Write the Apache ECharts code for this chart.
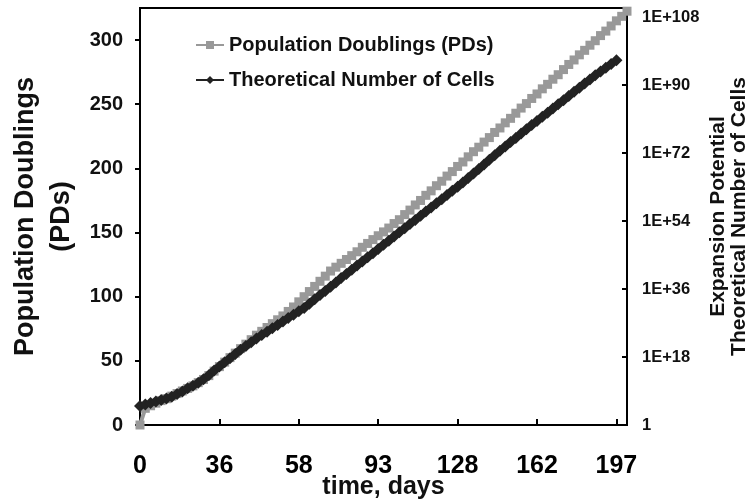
<!DOCTYPE html>
<html>
<head>
<meta charset="utf-8">
<script src="https://cdn.jsdelivr.net/npm/echarts@6/dist/echarts.min.js"></script>
<style>
html,body{margin:0;padding:0;background:#fff;}
#chart{width:747px;height:501px;}
</style>
</head>
<body>
<div id="chart"></div>
<script>
// Sampling days (category axis)
const days = [
  0,2,5,7,9,12,14,16,19,21,24,26,29,31,33,
  36,37,39,40,42,43,45,46,48,49,51,52,54,55,57,
  58,61,63,65,68,70,72,75,77,79,82,84,86,89,91,
  93,95,98,100,102,105,107,109,112,114,116,119,121,123,126,
  128,130,133,135,137,139,142,144,146,148,151,153,155,157,160,
  162,164,167,169,171,174,176,178,181,183,185,188,190,192,195,
  197,199,202
];

// Population doublings (left axis)
const populationDoublings = [
  0,13,15,17,19,20.5,22.5,24.5,26.5,28.5,
  30.5,33,35.5,38.5,42,45.5,49,52.5,56,59.5,
  63,66.5,70,73,76,79,82,85,88.5,92,
  96,100,104,108,112,116,120,123,126,129,
  132,135,138.5,141.5,144.5,147.5,150.5,153.5,157,160,
  164,167.5,171.5,175,179,182.5,186.5,190,194,197.5,
  201.5,205,209,213,216.5,220.5,224,228,231.5,235.5,
  239,243,247,250.5,254.5,258,262,265.5,269.5,273,
  277,281,284.5,288.5,292,296,299.5,303.5,307,311,
  315,318.5,322.5
];

// Theoretical number of cells, as powers of ten (right, logarithmic axis)
const cellsExponent = [
  5.0,5.4,5.8,6.2,6.6,7.0,7.5,8.2,8.9,9.7,
  10.4,11.2,12.1,13.2,14.4,15.5,16.6,17.7,18.8,19.9,
  20.9,21.9,22.9,23.8,24.7,25.6,26.5,27.4,28.3,29.2,
  30.1,31.0,32.1,33.3,34.4,35.5,36.6,37.7,38.9,40.0,
  41.1,42.2,43.3,44.4,45.5,46.6,47.7,48.8,49.9,51.0,
  52.1,53.2,54.3,55.4,56.5,57.6,58.7,59.8,60.9,62.0,
  63.1,64.2,65.4,66.6,67.8,69.0,70.2,71.4,72.6,73.7,
  74.9,76.0,77.2,78.3,79.4,80.5,81.6,82.7,83.8,84.9,
  86.0,87.1,88.2,89.3,90.4,91.5,92.6,93.6,94.6,95.6,
  96.6
];

const leftTicks = {min: 0, max: 325, interval: 50};
const rightTicks = {minExp: 0, maxExp: 110.4, intervalExp: 18};

const seriesNames = ['Population Doublings (PDs)', 'Theoretical Number of Cells'];

const FONT = '"Liberation Sans", Arial, sans-serif';
const chart = echarts.init(document.getElementById('chart'), null, {renderer: 'canvas'});

chart.setOption({
  animation: false,
  backgroundColor: '#fff',
  textStyle: {fontFamily: FONT},
  grid: {
    left: 140, right: 120, top: 8, bottom: 76,
    show: true, borderColor: '#000', borderWidth: 2,
    containLabel: false, outerBoundsMode: 'none'
  },
  legend: {
    orient: 'vertical',
    left: 190, top: 30,
    itemWidth: 28, itemHeight: 10, itemGap: 15,
    textStyle: {fontSize: 20, fontWeight: 'bold', color: '#111', fontFamily: FONT},
    data: seriesNames
  },
  xAxis: {
    type: 'category',
    data: days,
    boundaryGap: false,
    axisLine: {lineStyle: {color: '#000', width: 2}},
    axisTick: {inside: true, length: 6, interval: 14, lineStyle: {color: '#000', width: 2}},
    axisLabel: {interval: 14, margin: 29, fontSize: 25, fontWeight: 'bold', color: '#000', fontFamily: FONT},
    splitLine: {show: false},
    name: 'time, days',
    nameLocation: 'middle',
    nameGap: 50,
    nameMoveOverlap: false,
    nameTextStyle: {fontSize: 25, fontWeight: 'bold', color: '#111', fontFamily: FONT}
  },
  yAxis: [
    {
      type: 'value',
      position: 'left',
      min: leftTicks.min, max: leftTicks.max, interval: leftTicks.interval,
      axisLine: {show: true, lineStyle: {color: '#000', width: 2}},
      axisTick: {show: true, inside: false, length: 5, lineStyle: {color: '#000', width: 2}},
      axisLabel: {margin: 17, fontSize: 20, fontWeight: 'bold', color: '#111', showMaxLabel: false, fontFamily: FONT},
      splitLine: {show: false},
      name: 'Population Doublings\n(PDs)',
      nameLocation: 'middle',
      nameRotate: 90,
      nameGap: 60,
      nameMoveOverlap: false,
      nameTextStyle: {fontSize: 27, fontWeight: 'bold', color: '#111', lineHeight: 36, fontFamily: FONT}
    },
    {
      type: 'log',
      logBase: 10,
      position: 'right',
      min: Math.pow(10, rightTicks.minExp),
      max: Math.pow(10, rightTicks.maxExp),
      interval: rightTicks.intervalExp,
      axisLine: {show: true, lineStyle: {color: '#000', width: 2}},
      axisTick: {show: true, inside: true, length: 5, lineStyle: {color: '#000', width: 2}},
      axisLabel: {
        margin: 15, fontSize: 16.5, fontWeight: 'bold', color: '#111', showMaxLabel: false, fontFamily: FONT,
        formatter: function (v) {
          const e = Math.round(Math.log10(v));
          return e === 0 ? '1' : '1E+' + e;
        }
      },
      splitLine: {show: false},
      name: 'Expansion Potential\nTheoretical Number of Cells',
      nameLocation: 'middle',
      nameRotate: 90,
      nameGap: 81,
      nameMoveOverlap: false,
      nameTextStyle: {fontSize: 21, fontWeight: 'bold', color: '#111', lineHeight: 21, fontFamily: FONT}
    }
  ],
  series: [
    {
      name: seriesNames[0],
      type: 'line',
      yAxisIndex: 0,
      data: populationDoublings,
      symbol: 'rect',
      symbolSize: 9,
      showAllSymbol: true,
      lineStyle: {color: '#999', width: 4},
      itemStyle: {color: '#999'},
      z: 2
    },
    {
      name: seriesNames[1],
      type: 'line',
      yAxisIndex: 1,
      data: cellsExponent.map(function (e) { return Math.pow(10, e); }),
      symbol: 'diamond',
      symbolSize: 12,
      showAllSymbol: true,
      lineStyle: {color: '#222', width: 5},
      itemStyle: {color: '#222'},
      z: 3
    }
  ]
});
</script>
</body>
</html>
